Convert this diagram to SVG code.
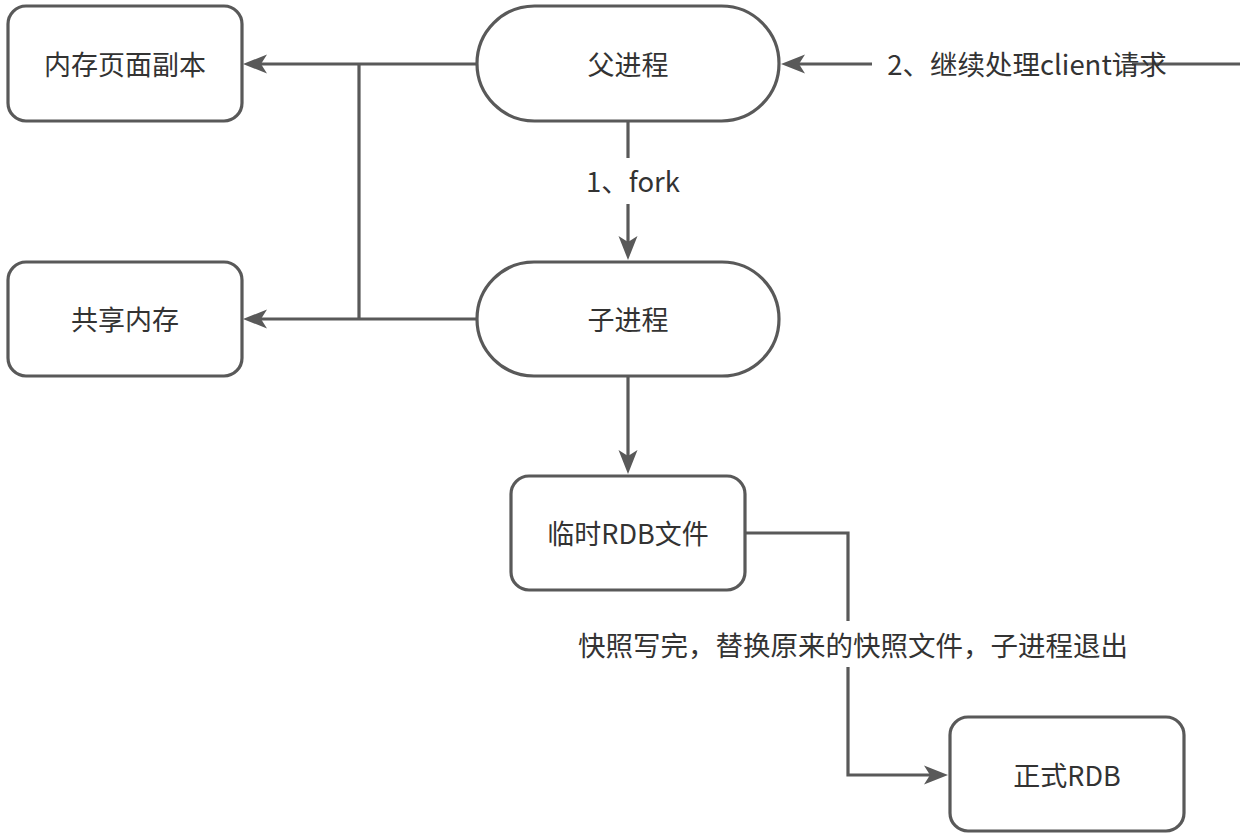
<svg xmlns="http://www.w3.org/2000/svg" width="1246" height="838" viewBox="0 0 1246 838">
<style>
.node{fill:#fff;stroke:#595959;stroke-width:3.2}
.t{font-family:"Noto Sans CJK SC","Noto Sans",sans-serif;font-size:27px;fill:#333;text-anchor:middle;dominant-baseline:central}
.e{fill:none;stroke:#595959;stroke-width:3.2}
.lb{font-family:"Noto Sans CJK SC","Noto Sans",sans-serif;font-size:27.5px;fill:#333;text-anchor:middle;dominant-baseline:central}
</style>
<defs>
<marker id="arr" markerUnits="userSpaceOnUse" markerWidth="28" markerHeight="22" refX="11" refY="9.5" orient="auto" overflow="visible">
<path d="M0,0 L24,9.5 L0,19 L6,9.5 Z" fill="#595959"/>
</marker>
</defs>
<rect width="1246" height="838" fill="#fff"/>
<g id="connectors">
<path class="e" d="M477,64 L256,64" marker-end="url(#arr)"/>
<path class="e" d="M359,64 L359,319"/>
<path class="e" d="M477,319 L256,319" marker-end="url(#arr)"/>
<path class="e" d="M628,121 L628,247" marker-end="url(#arr)"/>
<rect x="578" y="158" width="104" height="46" fill="#fff"/>
<text class="lb" x="633" y="180">1、fork</text>
<path class="e" d="M1240,64 L794,64" marker-end="url(#arr)"/>
<rect x="872" y="44" width="260" height="40" fill="#fff"/>
<text class="lb" x="1027" y="63">2、继续处理client请求</text>
<path class="e" d="M628,376 L628,461" marker-end="url(#arr)"/>
<path class="e" d="M745,533 L848,533 L848,775 L935,775" marker-end="url(#arr)"/>
<rect x="568" y="621" width="570" height="46" fill="#fff"/>
<text class="lb" x="853" y="644">快照写完，替换原来的快照文件，子进程退出</text>
</g>
<g id="n-copy"><rect class="node" x="8" y="6" width="234" height="115" rx="18"/><text class="t" x="125" y="63">内存页面副本</text></g>
<g id="n-parent"><rect class="node" x="477" y="6" width="302" height="115" rx="57.5"/><text class="t" x="628" y="63">父进程</text></g>
<g id="n-shared"><rect class="node" x="8" y="262" width="234" height="114" rx="18"/><text class="t" x="125" y="318">共享内存</text></g>
<g id="n-child"><rect class="node" x="477" y="262" width="302" height="114" rx="57"/><text class="t" x="628" y="318">子进程</text></g>
<g id="n-temp"><rect class="node" x="511" y="476" width="234" height="114" rx="18"/><text class="t" x="628" y="532">临时RDB文件</text></g>
<g id="n-final"><rect class="node" x="950" y="717" width="234" height="114" rx="18"/><text class="t" x="1067" y="774">正式RDB</text></g>
</svg>
